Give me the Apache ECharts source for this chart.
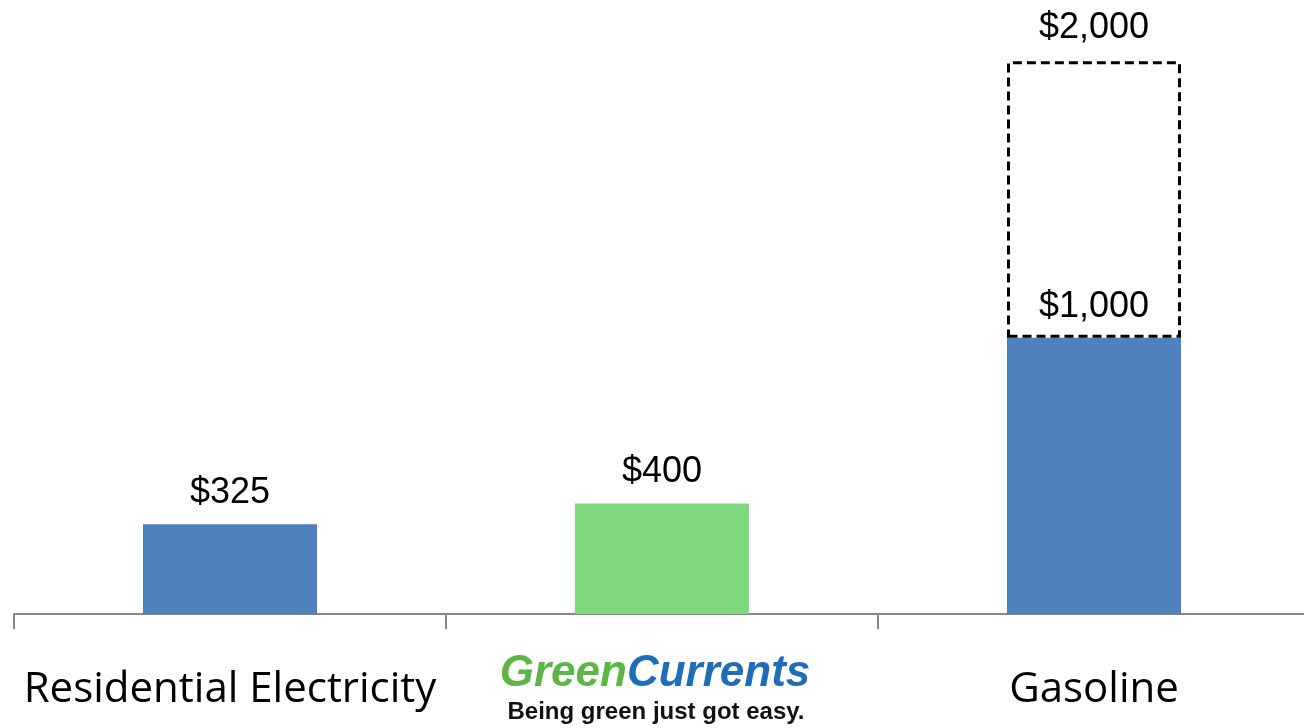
<!DOCTYPE html>
<html><head><meta charset="utf-8">
<script src="https://cdn.jsdelivr.net/npm/echarts@6/dist/echarts.min.js"></script>
<style>html,body{margin:0;padding:0;background:#fff}#c{width:1304px;height:728px}</style>
</head><body><div id="c"></div>
<script>
const categories = ['Residential Electricity', 'GreenCurrents', 'Gasoline'];
const baseValues = [325, 400, 1000];
const upperTotals = [null, null, 2000];
const tagline = 'Being green just got easy.';

const fmt = v => '$' + v.toLocaleString('en-US');
const extra = upperTotals.map((t, i) => t == null ? null : t - baseValues[i]);

const chart = echarts.init(document.getElementById('c'));
chart.setOption({
  animation: false,
  grid: { left: 14, top: 6, width: 1296, height: 608, outerBoundsMode: 'none', containLabel: false },
  xAxis: {
    type: 'category', data: categories,
    axisLine: { show: true, lineStyle: { color: '#878787', width: 2 } },
    axisTick: { show: true, length: 15, lineStyle: { color: '#878787', width: 2 } },
    axisLabel: {
      margin: 36, interval: 0,
      formatter: (v, i) => i === 1
        ? '{g|Green}{c|Currents}\n{t|' + tagline + '}'
        : '{n|' + v + '}',
      rich: {
        n: { fontFamily: '"Open Sans"', fontSize: 42, color: '#000', lineHeight: 80 },
        g: { fontFamily: '"Liberation Sans"', fontStyle: 'italic', fontWeight: 'bold', fontSize: 44, color: '#5DB547', lineHeight: 48 },
        c: { fontFamily: '"Liberation Sans"', fontStyle: 'italic', fontWeight: 'bold', fontSize: 44, color: '#1F6DB8', lineHeight: 48, padding: [0, 14, 0, 0] },
        t: { fontFamily: '"Liberation Sans"', fontWeight: 'bold', fontSize: 24, color: '#111', lineHeight: 28, padding: [0, 12, 0, 0] }
      }
    }
  },
  yAxis: { type: 'value', min: 0, max: 2200, show: false, splitLine: { show: false } },
  series: [
    {
      type: 'bar', stack: 'a', barWidth: 174, data: baseValues,
      itemStyle: { color: p => p.dataIndex === 1 ? '#7ED97E' : '#4F81BD' },
      label: { show: true, position: 'top', distance: 13, formatter: p => fmt(p.value),
        fontFamily: '"Liberation Sans", Arial', fontSize: 36, color: '#000' }
    },
    {
      type: 'bar', stack: 'a', barWidth: 174, data: extra,
      itemStyle: { color: 'rgba(0,0,0,0)', borderColor: '#000', borderWidth: 3, borderType: [9, 5] },
      label: { show: true, position: 'top', distance: 15, formatter: p => fmt(upperTotals[p.dataIndex]),
        fontFamily: '"Liberation Sans", Arial', fontSize: 36, color: '#000' }
    }
  ]
});
</script></body></html>
